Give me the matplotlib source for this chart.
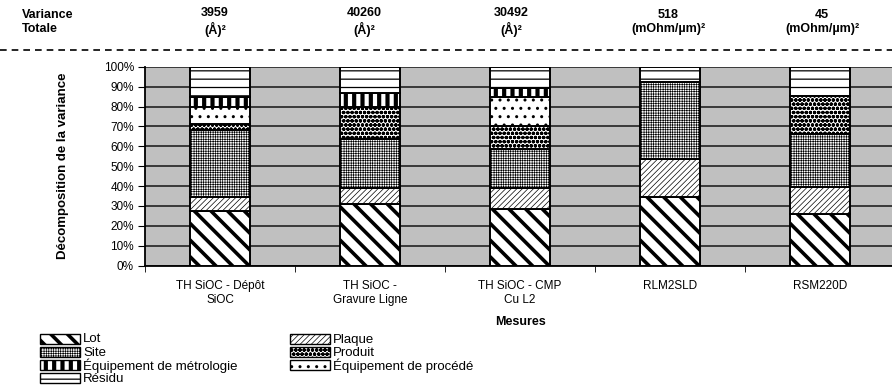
import matplotlib
matplotlib.use("Agg")
import matplotlib.pyplot as plt
import numpy as np
from matplotlib.patches import Rectangle
from matplotlib.lines import Line2D

# ---- data -------------------------------------------------------------
mesures = ["TH SiOC - Dépôt\nSiOC", "TH SiOC -\nGravure Ligne",
           "TH SiOC - CMP\nCu L2", "RLM2SLD", "RSM220D"]
variance_totale = ["3959\n(Å)²", "40260\n(Å)²", "30492\n(Å)²",
                   "518\n(mOhm/µm)²", "45\n(mOhm/µm)²"]

lot       = [27.6, 31.0, 28.5, 34.7, 25.8]
plaque    = [7.1, 7.9, 10.4, 18.8, 13.9]
site      = [33.5, 24.6, 19.6, 39.0, 26.5]
produit   = [2.8, 16.5, 11.7, 0.0, 19.1]
equip_proc = [9.0, 0.0, 14.4, 0.0, 0.0]
equip_metro = [4.6, 6.6, 4.8, 0.0, 0.0]
residu    = [15.4, 13.4, 10.6, 7.5, 14.7]

series = [
    ("Lot", lot, "\\\\", 2.6),
    ("Plaque", plaque, "//////", 0.5),
    ("Site", site, "+++++++", 0.45),
    ("Produit", produit, "oooo", 1.2),
    ("Équipement de procédé", equip_proc, "..", 1.0),
    ("Équipement de métrologie", equip_metro, "||", 3.0),
    ("Résidu", residu, "--", 0.9),
]

# ---- figure -----------------------------------------------------------
W, H = 892, 392
fig = plt.figure(figsize=(W / 100, H / 100), dpi=100)
fig.patch.set_facecolor("white")
plt.rcParams["font.family"] = ["Liberation Sans", "DejaVu Sans"]


def fx(px):
    return px / W


def fy(py):
    return 1 - py / H


ax_left, ax_right, ax_top, ax_bot = 145, 895, 66.7, 265.7
ax = fig.add_axes([fx(ax_left), fy(ax_bot), fx(ax_right - ax_left),
                   fy(ax_top) - fy(ax_bot)])
ax.set_facecolor("#c0c0c0")

x = np.arange(len(mesures))
bottom = np.zeros(len(mesures))
for name, vals, hatch, hlw in series:
    vals = np.asarray(vals, dtype=float)
    with plt.rc_context({"hatch.linewidth": hlw, "hatch.color": "black"}):
        bars = ax.bar(x, vals, 0.4, bottom=bottom, color="white",
                      edgecolor="black", linewidth=1.4, hatch=hatch,
                      zorder=3, label=name)
    for b in bars:
        if hasattr(b, "set_hatch_linewidth"):
            b.set_hatch_linewidth(hlw)
    bottom += vals

ax.set_xlim(-0.5, len(mesures) - 0.5)
ax.set_ylim(0, 100)
ax.set_yticks(np.arange(0, 101, 10))
ax.set_yticklabels([f"{v}%" for v in range(0, 101, 10)], fontsize=8.5)
ax.yaxis.grid(True, color="#222222", linewidth=1.2, zorder=0)
ax.set_axisbelow(True)
ax.set_xticks(x)
ax.set_xticklabels(mesures, fontsize=8.5, linespacing=1.3)
ax.set_xticks(np.arange(-0.5, len(mesures), 1), minor=True)
ax.tick_params(axis="x", which="major", length=0, pad=10)
ax.tick_params(axis="x", which="minor", length=4, direction="out")
ax.tick_params(axis="y", length=5, direction="out", pad=3)
for s in ["top", "right"]:
    ax.spines[s].set_visible(False)
ax.spines["left"].set_linewidth(1.3)
ax.spines["bottom"].set_linewidth(1.3)

ax.set_ylabel("Décomposition de la variance", fontsize=9.5,
              fontweight="bold")
ax.yaxis.set_label_coords((69 - ax_left) / (ax_right - ax_left), 0.5)
ax.set_xlabel("Mesures", fontsize=9, fontweight="bold", labelpad=7)

# ---- header: total variance per measure --------------------------------
fig.text(fx(22), fy(22), "Variance\nTotale", fontsize=9, fontweight="bold",
         ha="left", va="center", linespacing=1.3)
header_x = [215, 364, 511, 668, 822]
for hx, txt in zip(header_x, variance_totale):
    fig.text(fx(hx), fy(22), txt, fontsize=9, fontweight="bold",
             ha="center", va="center", linespacing=1.3)
fig.add_artist(Line2D([0, 1], [fy(50), fy(50)], transform=fig.transFigure,
                      color="black", linestyle=(0, (4, 3)), linewidth=1.2))

# ---- legend ------------------------------------------------------------
legend_layout = {
    "Lot": (40, 339), "Site": (40, 352),
    "Équipement de métrologie": (40, 365), "Résidu": (40, 378),
    "Plaque": (290, 339), "Produit": (290, 352),
    "Équipement de procédé": (290, 365),
}
for name, vals, hatch, hlw in series:
    lx, ly = legend_layout[name]
    with plt.rc_context({"hatch.linewidth": hlw, "hatch.color": "black"}):
        r = Rectangle((fx(lx), fy(ly + 5)), fx(40), fy(ly - 5) - fy(ly + 5),
                      transform=fig.transFigure, facecolor="white",
                      edgecolor="black", linewidth=1.0, hatch=hatch)
    if hasattr(r, "set_hatch_linewidth"):
        r.set_hatch_linewidth(hlw)
    fig.add_artist(r)
    fig.text(fx(lx + 43), fy(ly + 0.5), name, fontsize=9.5, ha="left",
             va="center")

fig.savefig("out.png", dpi=100)
